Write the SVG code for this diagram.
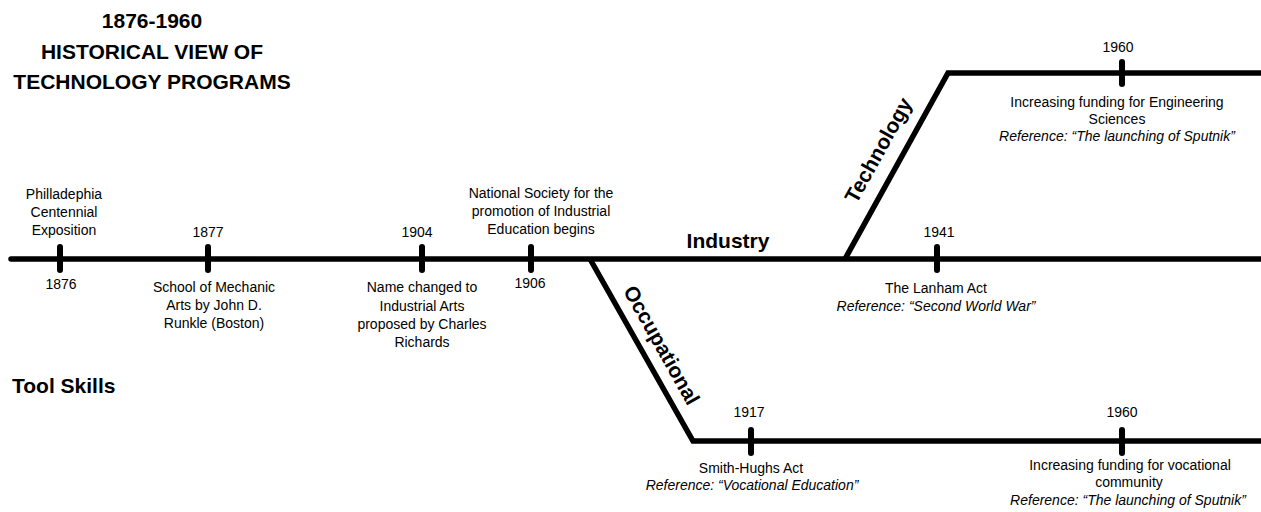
<svg xmlns="http://www.w3.org/2000/svg" width="1261" height="512" viewBox="0 0 1261 512">
  <style>
    .t{font-family:"Liberation Sans",Arial,sans-serif;font-size:14px;fill:#000;text-anchor:middle}
    .i{font-style:italic}
    .b{font-family:"Liberation Sans",Arial,sans-serif;font-size:21px;font-weight:bold;fill:#000}
    .c{text-anchor:middle}
    .ln{fill:none;stroke:#000;stroke-width:5.5;stroke-linejoin:miter}
    .tick{stroke:#000;stroke-width:6;stroke-linecap:round}
  </style>
  <rect width="1261" height="512" fill="#fff"/>

  <!-- title -->
  <g id="title">
    <text class="b c" x="152" y="28">1876-1960</text>
    <text class="b c" x="152" y="58.5">HISTORICAL VIEW OF</text>
    <text class="b c" x="152" y="89">TECHNOLOGY PROGRAMS</text>
  </g>
  <g id="tool-skills">
    <text class="b" x="12" y="393">Tool Skills</text>
  </g>

  <!-- timelines -->
  <g id="connectors">
    <path class="ln" d="M11,259 H1261" stroke-linecap="round"/>
    <path class="ln" d="M590,259 L693,441 H1261"/>
    <path class="ln" d="M845,259 L948,73 H1261"/>
  </g>

  <!-- branch labels -->
  <g id="industry">
    <text class="b c" x="728" y="248">Industry</text>
  </g>
  <g id="occupational">
    <text class="b c" transform="translate(655.4,348.7) rotate(60.7)">Occupational</text>
  </g>
  <g id="technology">
    <text class="b c" transform="translate(884.6,153.6) rotate(-61)">Technology</text>
  </g>

  <!-- events on the main line -->
  <g id="e1876">
    <line class="tick" x1="60" y1="247" x2="60" y2="270"/>
    <text class="t" x="64" y="199">Philladephia</text>
    <text class="t" x="64" y="217">Centennial</text>
    <text class="t" x="64" y="235">Exposition</text>
    <text class="t" x="61" y="289">1876</text>
  </g>
  <g id="e1877">
    <line class="tick" x1="208" y1="247" x2="208" y2="270"/>
    <text class="t" x="208" y="237">1877</text>
    <text class="t" x="214" y="292">School of Mechanic</text>
    <text class="t" x="214" y="310">Arts by John D.</text>
    <text class="t" x="214" y="328">Runkle (Boston)</text>
  </g>
  <g id="e1904">
    <line class="tick" x1="422" y1="247" x2="422" y2="270"/>
    <text class="t" x="417" y="237">1904</text>
    <text class="t" x="422" y="292">Name changed to</text>
    <text class="t" x="422" y="310.5">Industrial Arts</text>
    <text class="t" x="422" y="329">proposed by Charles</text>
    <text class="t" x="422" y="347">Richards</text>
  </g>
  <g id="e1906">
    <line class="tick" x1="531" y1="247" x2="531" y2="270"/>
    <text class="t" x="541" y="198">National Society for the</text>
    <text class="t" x="541" y="216">promotion of Industrial</text>
    <text class="t" x="541" y="234">Education begins</text>
    <text class="t" x="530" y="288">1906</text>
  </g>
  <g id="e1941">
    <line class="tick" x1="937" y1="247" x2="937" y2="270"/>
    <text class="t" x="939" y="237">1941</text>
    <text class="t" x="936" y="293">The Lanham Act</text>
    <text class="t i" x="936" y="311">Reference: “Second World War”</text>
  </g>

  <!-- technology line -->
  <g id="e1960-engineering">
    <line class="tick" x1="1122" y1="62" x2="1122" y2="84"/>
    <text class="t" x="1118" y="52">1960</text>
    <text class="t" x="1117" y="107">Increasing funding for Engineering</text>
    <text class="t" x="1117" y="124">Sciences</text>
    <text class="t i" x="1117" y="141">Reference: “The launching of Sputnik”</text>
  </g>

  <!-- occupational line -->
  <g id="e1917">
    <line class="tick" x1="751" y1="430" x2="751" y2="453"/>
    <text class="t" x="749" y="417">1917</text>
    <text class="t" x="751" y="473">Smith-Hughs Act</text>
    <text class="t i" x="752" y="490">Reference: “Vocational Education”</text>
  </g>
  <g id="e1960-vocational">
    <line class="tick" x1="1122" y1="430" x2="1122" y2="453"/>
    <text class="t" x="1122" y="417">1960</text>
    <text class="t" x="1130" y="470">Increasing funding for vocational</text>
    <text class="t" x="1129" y="487">community</text>
    <text class="t i" x="1128" y="505">Reference: “The launching of Sputnik”</text>
  </g>
</svg>
